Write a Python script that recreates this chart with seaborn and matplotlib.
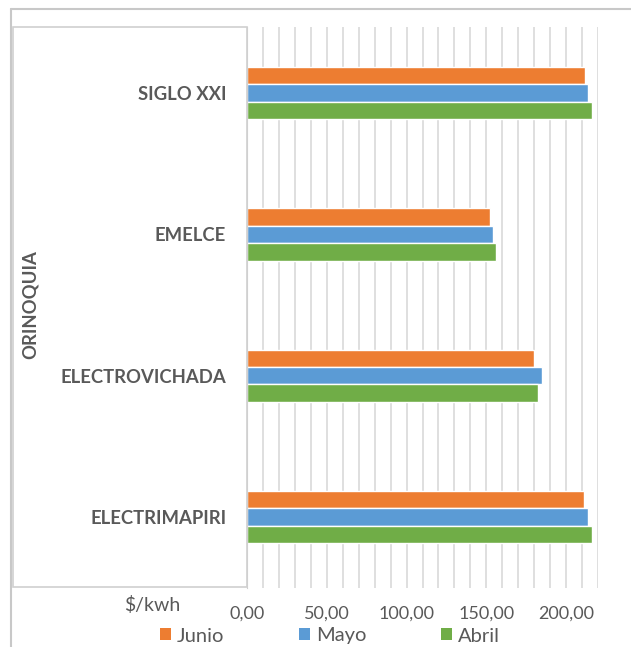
import pandas as pd
import numpy as np
import matplotlib
matplotlib.use("Agg")
import matplotlib.pyplot as plt
import seaborn as sns
from matplotlib.ticker import MultipleLocator, FuncFormatter
from matplotlib.patches import Rectangle, Patch
from matplotlib.lines import Line2D

# datos ($/kwh)
empresas = ["SIGLO XXI", "EMELCE", "ELECTROVICHADA", "ELECTRIMAPIRI"]
meses = ["Junio", "Mayo", "Abril"]
junio = [212.0, 152.5, 179.6, 211.1]
mayo = [213.8, 154.4, 185.0, 213.6]
abril = [216.1, 156.1, 182.6, 216.1]
colores = ["#ED7D31", "#5B9BD5", "#70AD47"]

df = pd.DataFrame({"Empresa": empresas * 3,
                   "Mes": ["Junio"] * 4 + ["Mayo"] * 4 + ["Abril"] * 4,
                   "Valor": junio + mayo + abril})

sns.set_style("white")
plt.rcParams["font.family"] = ["Lato", "DejaVu Sans"]
gris = "#595959"

fig = plt.figure(figsize=(6.31, 6.47), dpi=100)
W, H = 631, 647
ax = fig.add_axes([247 / W, 1 - 588 / H, 351 / W, 561 / H])

sns.barplot(data=df, y="Empresa", x="Valor", hue="Mes", hue_order=meses,
            order=empresas, palette=colores, orient="h", width=0.37,
            saturation=1, ax=ax, legend=False)

ax.set_xlim(0, 220)
ax.set_ylim(3.502, -0.467)
ax.xaxis.set_major_locator(MultipleLocator(50))
ax.xaxis.set_minor_locator(MultipleLocator(10))
ax.xaxis.set_major_formatter(FuncFormatter(lambda v, p: f"{v:.2f}".replace(".", ",")))
ax.grid(True, axis="x", which="both", color="#d9d9d9", lw=1.2)
ax.set_axisbelow(True)
for s in ["top", "right", "bottom"]:
    ax.spines[s].set_visible(False)
ax.spines["left"].set_color("#d0d0d0")
ax.tick_params(axis="x", which="both", length=0, pad=13, labelsize=13, labelcolor=gris)
ax.tick_params(axis="y", length=0, pad=15, labelsize=13.3, labelcolor=gris)
for t in ax.get_yticklabels():
    t.set_fontweight("bold")
ax.set_xlabel("")
ax.set_ylabel("")

# marco exterior y panel de categorias
fig.add_artist(Line2D([11 / W, 11 / W], [0, 1 - 9 / H], color="#c8c8c8", lw=1.5))
fig.add_artist(Line2D([11 / W, 1], [1 - 9 / H, 1 - 9 / H], color="#c8c8c8", lw=1.5))
fig.add_artist(Rectangle((13 / W, 1 - 587 / H), 234 / W, 560 / H, fill=False,
                         edgecolor="#d0d0d0", lw=1.2))
fig.text(30 / W, 1 - 305 / H, "ORINOQUIA", rotation=90, ha="center", va="center",
         fontsize=13.3, fontweight="bold", color=gris)
fig.text(152 / W, 1 - 605 / H, "$/kwh", ha="center", va="center", fontsize=14, color=gris)

handles = [Patch(facecolor=c, edgecolor="none") for c in colores]
fig.legend(handles, meses, loc="center", bbox_to_anchor=(330 / W, 1 - 636 / H), ncol=3,
           frameon=False, fontsize=14.5, labelcolor=gris, handlelength=0.55,
           handleheight=0.55, handletextpad=0.3, columnspacing=3.7, borderpad=0)

fig.savefig("out.png", dpi=100)
